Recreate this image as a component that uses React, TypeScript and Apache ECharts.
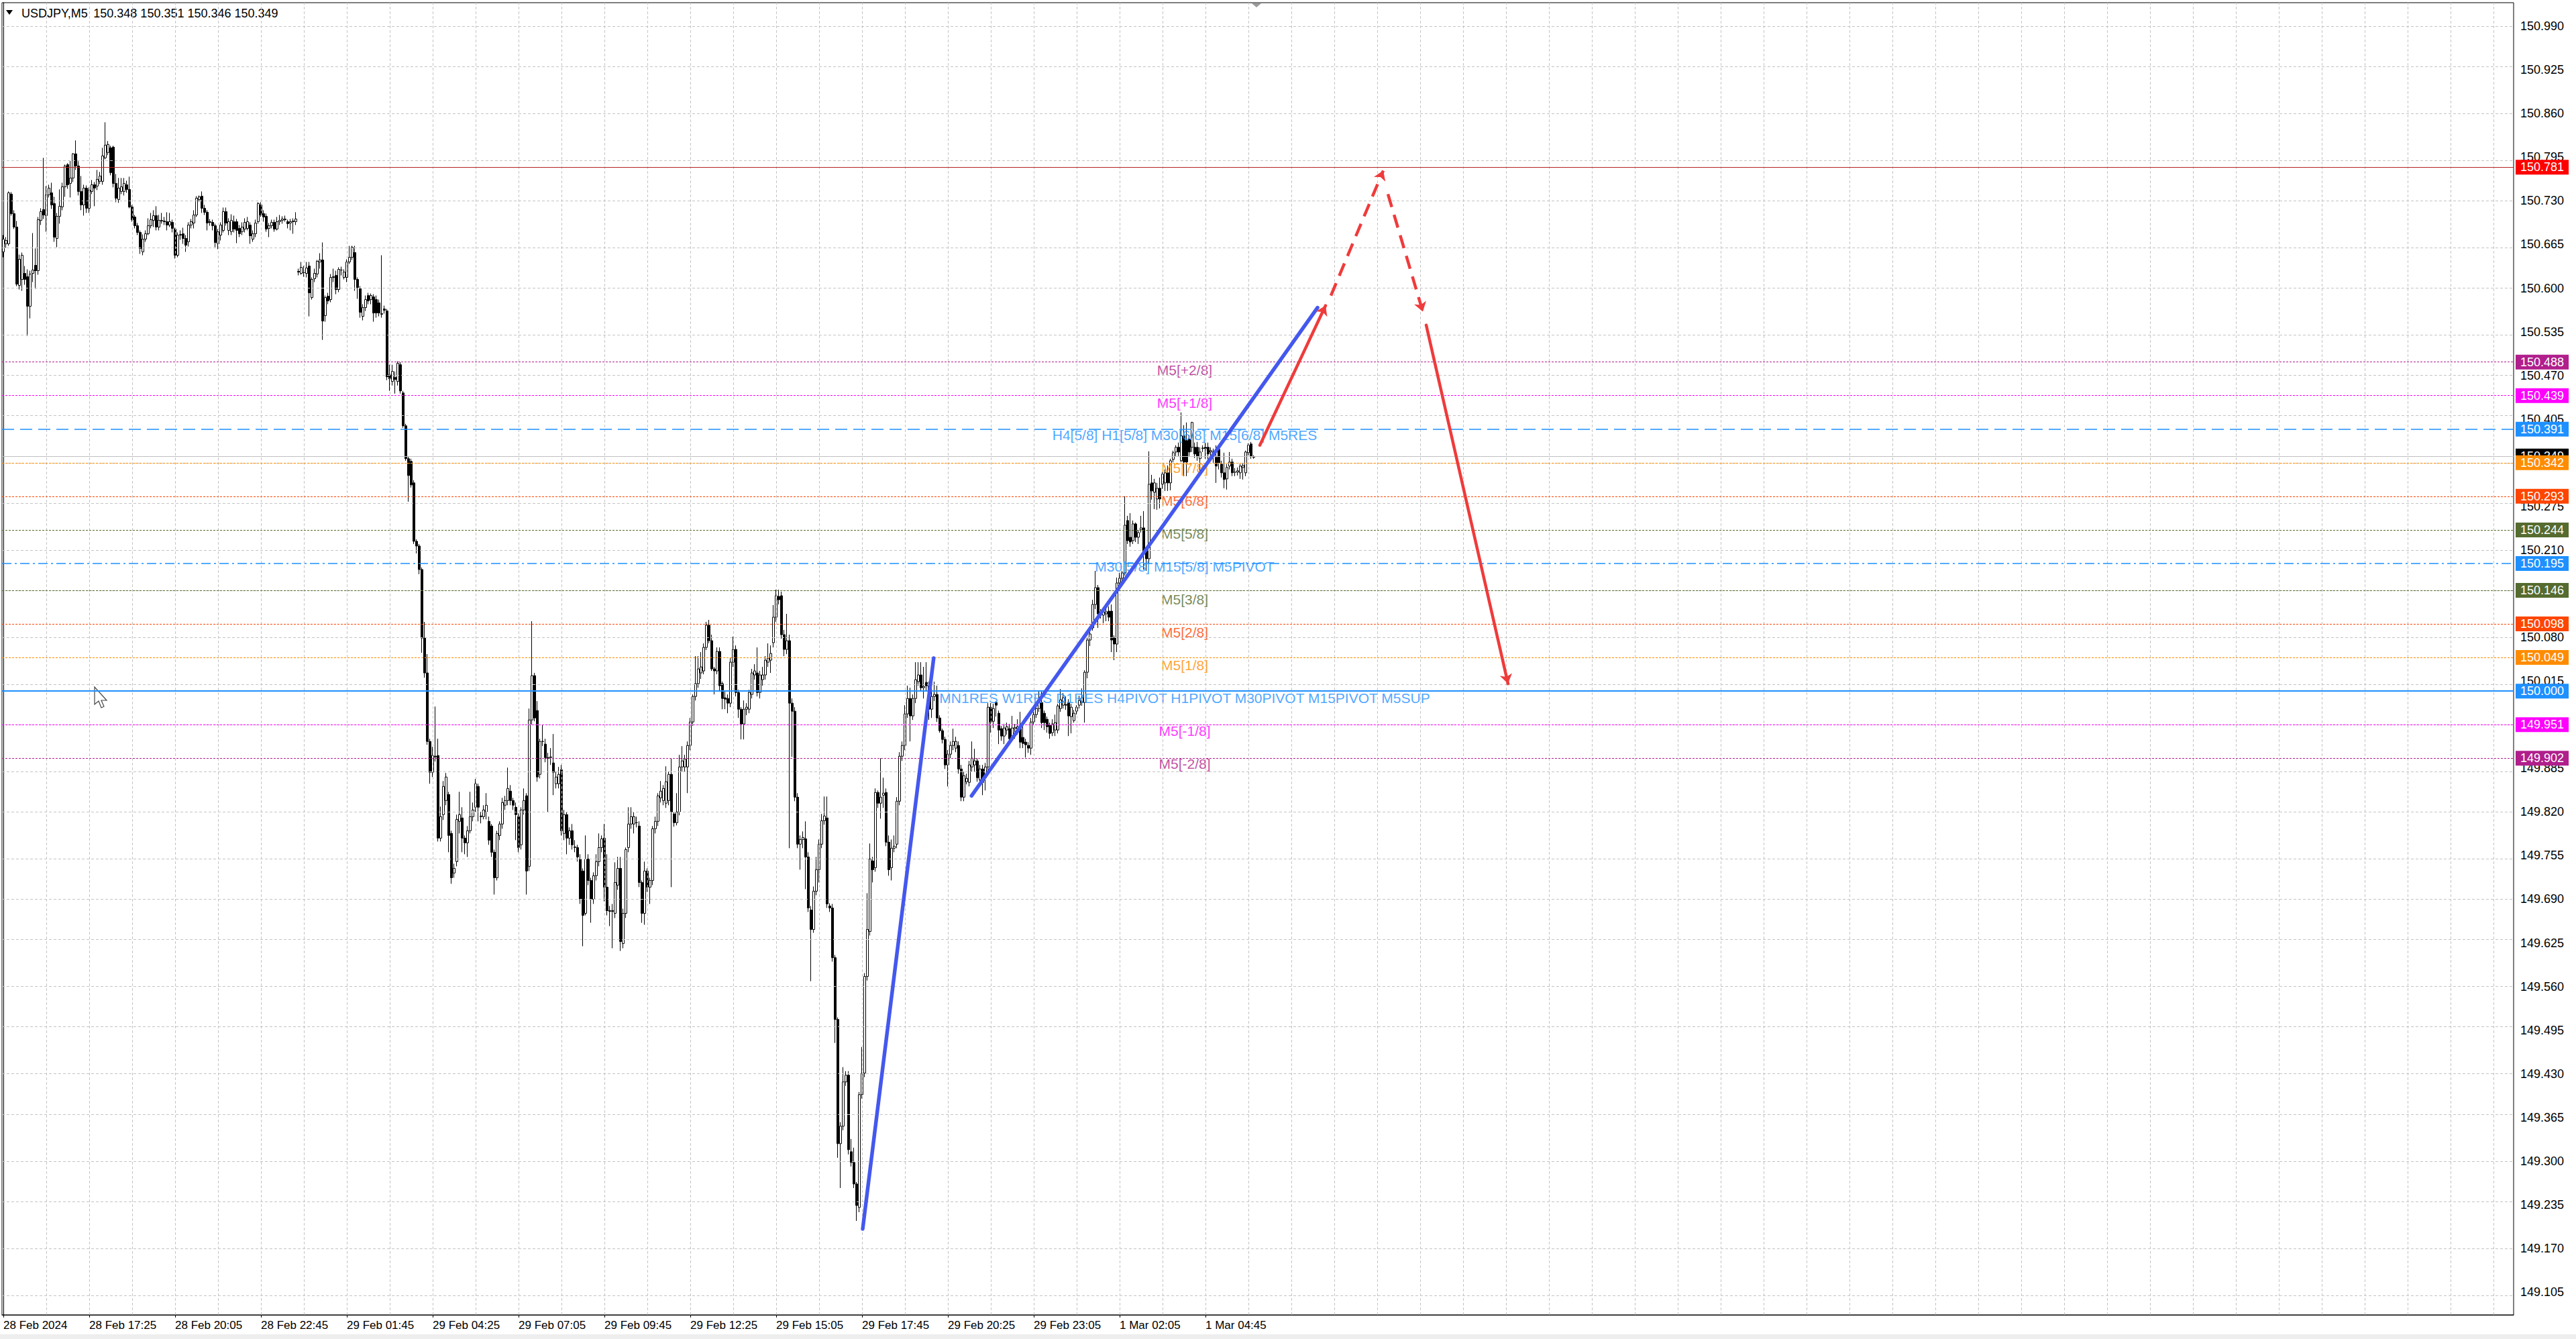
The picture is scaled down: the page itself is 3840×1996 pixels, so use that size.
import React, { useEffect, useRef } from 'react';
import * as echarts from 'echarts';

// ---------- DATA ----------
const symbolTitle = 'USDJPY,M5';
const headerQuote = ['150.348', '150.351', '150.346', '150.349'];

const timeLabelBars = [0, 32, 64, 96, 128, 160, 192, 224, 256, 288, 320, 352, 384, 416, 448];
const timeLabels = [
  '28 Feb 2024', '28 Feb 17:25', '28 Feb 20:05', '28 Feb 22:45', '29 Feb 01:45', '29 Feb 04:25',
  '29 Feb 07:05', '29 Feb 09:45', '29 Feb 12:25', '29 Feb 15:05', '29 Feb 17:45', '29 Feb 20:25',
  '29 Feb 23:05', '1 Mar 02:05', '1 Mar 04:45',
];

const priceTicks = [
  149.105, 149.170, 149.235, 149.300, 149.365, 149.430, 149.495, 149.560, 149.625, 149.690,
  149.755, 149.820, 149.885, 149.950, 150.015, 150.080, 150.145, 150.210, 150.275, 150.340,
  150.405, 150.470, 150.535, 150.600, 150.665, 150.730, 150.795, 150.860, 150.925, 150.990,
];

const levelPrices = [150.781, 150.488, 150.439, 150.391, 150.342, 150.293, 150.244, 150.195, 150.146, 150.098, 150.049, 150.000, 149.951, 149.902];
const levelNames = [
  '', 'M5[+2/8]', 'M5[+1/8]', 'H4[5/8] H1[5/8] M30[6/8] M15[6/8] M5RES', 'M5[7/8]', 'M5[6/8]', 'M5[5/8]',
  'M30[5/8] M15[5/8] M5PIVOT', 'M5[3/8]', 'M5[2/8]', 'M5[1/8]',
  'MN1RES W1RES D1RES H4PIVOT H1PIVOT M30PIVOT M15PIVOT M5SUP', 'M5[-1/8]', 'M5[-2/8]',
];
const bidPrice = 150.349;

// [open, close, low, high]
const ohlcDay1: number[][] = [
  [150.654,150.673,150.646,150.679],[150.666,150.671,150.660,150.676],[150.666,150.742,150.663,150.744],[150.740,150.711,150.708,150.743],
  [150.711,150.691,150.688,150.716],[150.691,150.606,150.603,150.700],[150.604,150.643,150.598,150.650],[150.613,150.649,150.596,150.653],
  [150.622,150.613,150.605,150.633],[150.617,150.573,150.529,150.628],[150.573,150.621,150.555,150.626],[150.622,150.627,150.609,150.682],
  [150.634,150.626,150.599,150.659],[150.626,150.702,150.620,150.706],[150.701,150.714,150.694,150.719],[150.717,150.709,150.703,150.794],
  [150.708,150.739,150.684,150.752],[150.739,150.749,150.735,150.754],[150.742,150.724,150.718,150.757],[150.726,150.676,150.669,150.736],
  [150.674,150.707,150.661,150.712],[150.707,150.722,150.696,150.747],[150.721,150.751,150.716,150.757],[150.751,150.782,150.736,150.784],
  [150.784,150.754,150.748,150.786],[150.756,150.764,150.735,150.790],[150.764,150.800,150.758,150.801],[150.800,150.782,150.776,150.820],
  [150.782,150.744,150.738,150.789],[150.744,150.724,150.716,150.767],[150.724,150.749,150.708,150.754],[150.749,150.719,150.712,150.753],
  [150.719,150.746,150.712,150.750],[150.744,150.754,150.740,150.761],[150.754,150.749,150.722,150.758],[150.752,150.762,150.746,150.776],
  [150.759,150.767,150.755,150.773],[150.759,150.797,150.754,150.809],[150.794,150.813,150.792,150.847],[150.802,150.814,150.798,150.819],
  [150.809,150.772,150.768,150.812],[150.810,150.756,150.750,150.812],[150.756,150.734,150.728,150.770],[150.732,150.749,150.727,150.764],
  [150.744,150.751,150.740,150.764],[150.744,150.756,150.738,150.764],[150.754,150.747,150.742,150.760],[150.747,150.721,150.719,150.766],
  [150.721,150.702,150.699,150.724],[150.706,150.693,150.689,150.709],[150.693,150.683,150.679,150.697],[150.683,150.659,150.651,150.686],
  [150.654,150.673,150.649,150.680],[150.673,150.681,150.669,150.686],[150.681,150.693,150.679,150.704],[150.693,150.702,150.689,150.712],
  [150.701,150.708,150.691,150.716],[150.708,150.691,150.686,150.722],[150.691,150.701,150.686,150.709],[150.700,150.701,150.696,150.712],
  [150.700,150.699,150.694,150.706],[150.699,150.694,150.686,150.713],[150.694,150.699,150.691,150.712],[150.698,150.689,150.683,150.702],
  [150.688,150.649,150.644,150.690],[150.649,150.679,150.646,150.683],[150.679,150.680,150.672,150.686],[150.681,150.674,150.666,150.690],
  [150.674,150.664,150.654,150.679],[150.669,150.694,150.662,150.698],[150.694,150.699,150.689,150.703],[150.697,150.709,150.689,150.716],
  [150.709,150.734,150.706,150.737],[150.732,150.736,150.729,150.738],[150.737,150.719,150.712,150.744],[150.719,150.713,150.709,150.724],
  [150.713,150.697,150.686,150.716],[150.699,150.698,150.693,150.703],[150.698,150.693,150.686,150.702],[150.693,150.668,150.661,150.696],
  [150.666,150.684,150.658,150.688],[150.679,150.694,150.671,150.698],[150.686,150.714,150.683,150.720],[150.714,150.697,150.693,150.720],
  [150.686,150.699,150.679,150.704],[150.684,150.701,150.679,150.710],[150.699,150.688,150.683,150.708],[150.699,150.686,150.667,150.703],
  [150.689,150.681,150.676,150.694],[150.684,150.691,150.679,150.698],[150.688,150.698,150.683,150.704],[150.689,150.699,150.686,150.706],
  [150.694,150.678,150.666,150.698],[150.673,150.681,150.669,150.686],[150.681,150.697,150.676,150.702],[150.699,150.726,150.696,150.728],
  [150.724,150.709,150.706,150.728],[150.711,150.706,150.699,150.716],[150.707,150.688,150.684,150.711],[150.689,150.693,150.676,150.697],
  [150.693,150.698,150.689,150.702],[150.698,150.688,150.684,150.702],[150.688,150.699,150.686,150.706],[150.699,150.701,150.694,150.709],
  [150.701,150.703,150.696,150.707],[150.702,150.703,150.699,150.708],[150.699,150.696,150.689,150.702],[150.697,150.699,150.686,150.703],
  [150.699,150.700,150.681,150.704],[150.699,150.703,150.694,150.713],
];

const ohlcDay2: number[][] = [
  [150.625,150.624,150.619,150.629],[150.622,150.631,150.620,150.639],[150.623,150.623,150.617,150.633],[150.622,150.630,150.616,150.639],
  [150.633,150.593,150.558,150.639],[150.586,150.613,150.583,150.616],[150.614,150.622,150.609,150.629],[150.621,150.640,150.616,150.642],
  [150.639,150.642,150.629,150.652],[150.642,150.551,150.523,150.668],[150.559,150.586,150.550,150.589],[150.588,150.581,150.576,150.593],
  [150.583,150.616,150.579,150.621],[150.616,150.617,150.609,150.629],[150.619,150.598,150.591,150.626],[150.598,150.628,150.594,150.631],
  [150.627,150.627,150.619,150.632],[150.616,150.624,150.613,150.628],[150.616,150.639,150.609,150.643],[150.639,150.646,150.636,150.663],
  [150.646,150.661,150.642,150.663],[150.653,150.613,150.596,150.663],[150.613,150.601,150.584,150.616],[150.599,150.564,150.556,150.603],
  [150.558,150.571,150.552,150.576],[150.571,150.583,150.566,150.589],[150.589,150.581,150.576,150.593],[150.583,150.589,150.576,150.592],
  [150.587,150.563,150.550,150.591],[150.583,150.563,150.556,150.589],[150.578,150.563,150.558,150.583],[150.561,150.562,150.556,150.649],
  [150.569,150.567,150.562,150.574],[150.566,150.468,150.463,150.569],[150.471,150.465,150.447,150.486],[150.461,150.476,150.455,150.486],
  [150.467,150.464,150.443,150.476],[150.461,150.488,150.455,150.491],[150.486,150.447,150.443,150.490],[150.444,150.395,150.392,150.447],
  [150.395,150.346,150.343,150.398],[150.346,150.321,150.282,150.349],[150.342,150.307,150.303,150.346],[150.310,150.223,150.219,150.314],
  [150.223,150.216,150.205,150.226],[150.216,150.181,150.174,150.219],[150.181,150.079,150.057,150.184],[150.079,150.027,150.020,150.103],
  [150.027,149.925,149.920,150.055],[149.925,149.879,149.862,149.929],[149.879,149.904,149.872,149.917],[149.903,149.902,149.895,149.977],
  [149.904,149.781,149.776,149.929],[149.781,149.813,149.776,149.828],[149.816,149.858,149.808,149.866],[149.837,149.872,149.830,149.878],
  [149.846,149.785,149.760,149.850],[149.788,149.722,149.713,149.792],[149.729,149.736,149.722,149.743],[149.746,149.809,149.739,149.816],
  [149.806,149.816,149.788,149.850],[149.811,149.781,149.760,149.827],[149.781,149.774,149.757,149.785],[149.774,149.792,149.753,149.799],
  [149.792,149.813,149.788,149.850],[149.813,149.823,149.806,149.834],[149.827,149.862,149.820,149.869],[149.858,149.827,149.806,149.862],
  [149.814,149.813,149.803,149.820],[149.813,149.823,149.809,149.830],[149.820,149.830,149.809,149.848],[149.806,149.778,149.771,149.813],
  [149.799,149.760,149.753,149.802],[149.760,149.722,149.697,149.764],[149.722,149.788,149.718,149.792],[149.785,149.802,149.778,149.806],
  [149.802,149.834,149.795,149.841],[149.830,149.837,149.823,149.844],[149.837,149.855,149.830,149.886],[149.851,149.837,149.830,149.860],
  [149.837,149.830,149.823,149.841],[149.827,149.816,149.778,149.834],[149.813,149.767,149.760,149.818],[149.771,149.823,149.764,149.827],
  [149.823,149.837,149.816,149.855],[149.844,149.732,149.697,149.848],[149.739,149.957,149.732,149.974],[149.957,150.023,149.950,150.104],
  [150.023,149.960,149.955,150.027],[149.971,149.872,149.865,149.985],[149.876,149.925,149.870,149.929],[149.925,149.925,149.918,149.950],
  [149.921,149.901,149.894,149.929],[149.901,149.900,149.820,149.908],[149.901,149.902,149.890,149.915],[149.893,149.879,149.845,149.936],
  [149.862,149.872,149.855,149.880],[149.862,149.876,149.855,149.887],[149.883,149.792,149.785,149.890],[149.788,149.816,149.778,149.823],
  [149.816,149.781,149.757,149.820],[149.781,149.792,149.771,149.797],[149.792,149.771,149.764,149.802],[149.767,149.768,149.760,149.778],
  [149.767,149.753,149.746,149.771],[149.750,149.690,149.683,149.757],[149.732,149.666,149.620,149.736],[149.669,149.750,149.666,149.785],
  [149.750,149.718,149.711,149.757],[149.718,149.690,149.655,149.722],[149.690,149.725,149.683,149.730],[149.725,149.746,149.718,149.757],
  [149.746,149.767,149.739,149.788],[149.767,149.780,149.760,149.785],[149.781,149.708,149.687,149.802],[149.708,149.673,149.666,149.757],
  [149.673,149.672,149.650,149.680],[149.672,149.673,149.617,149.683],[149.669,149.715,149.662,149.745],[149.711,149.736,149.704,149.753],
  [149.736,149.627,149.613,149.753],[149.624,149.669,149.617,149.676],[149.669,149.764,149.662,149.767],[149.767,149.802,149.760,149.827],
  [149.802,149.813,149.795,149.827],[149.802,149.813,149.788,149.820],[149.804,149.804,149.797,149.813],[149.799,149.715,149.708,149.806],
  [149.715,149.669,149.655,149.718],[149.669,149.732,149.652,149.746],[149.732,149.708,149.701,149.736],[149.708,149.718,149.683,149.722],
  [149.718,149.795,149.711,149.799],[149.795,149.806,149.788,149.813],[149.806,149.844,149.799,149.848],[149.841,149.851,149.834,149.866],
  [149.837,149.855,149.830,149.860],[149.833,149.865,149.826,149.888],[149.837,149.876,149.830,149.880],[149.876,149.820,149.708,149.900],
  [149.817,149.804,149.798,149.820],[149.804,149.820,149.800,149.848],[149.820,149.887,149.815,149.905],[149.887,149.896,149.880,149.918],
  [149.887,149.899,149.880,149.905],[149.887,149.919,149.848,149.925],[149.919,149.954,149.912,149.960],[149.954,149.992,149.948,149.995],
  [149.992,150.011,149.986,150.052],[150.011,150.033,150.005,150.052],[150.027,150.036,150.018,150.058],[150.030,150.065,150.025,150.071],
  [150.065,150.098,150.061,150.103],[150.098,150.075,150.071,150.106],[150.075,150.033,150.030,150.084],[150.033,150.030,149.995,150.036],
  [150.030,150.059,150.025,150.065],[150.059,150.008,149.999,150.065],[150.011,149.989,149.973,150.014],[149.990,149.988,149.973,149.999],
  [149.989,149.982,149.967,149.995],[149.982,150.043,149.976,150.049],[150.043,150.062,150.036,150.081],[150.062,149.998,149.992,150.068],
  [149.998,149.973,149.960,150.002],[149.973,149.951,149.928,149.976],[149.951,149.973,149.928,149.986],[149.973,149.976,149.964,149.982],
  [149.973,149.998,149.967,150.002],[149.995,150.027,149.989,150.033],[150.024,150.030,150.017,150.040],[150.027,149.998,149.992,150.065],
  [149.998,150.024,149.989,150.030],[150.017,150.024,150.008,150.036],[150.024,150.046,150.017,150.052],[150.043,150.049,150.036,150.071],
  [150.046,150.056,150.027,150.068],[150.072,150.110,150.065,150.128],[150.110,150.142,150.103,150.151],[150.141,150.136,150.129,150.151],
  [150.142,150.084,150.078,150.148],[150.084,150.062,150.052,150.091],[150.062,150.075,150.055,150.115],[150.075,149.982,149.766,150.084],
  [149.982,149.970,149.902,149.989],[149.970,149.842,149.836,149.976],[149.842,149.772,149.766,149.848],[149.772,149.779,149.734,149.785],
  [149.779,149.782,149.766,149.791],[149.780,149.753,149.705,149.806],[149.753,149.677,149.671,149.760],[149.674,149.645,149.568,149.680],
  [149.645,149.702,149.640,149.709],[149.702,149.734,149.696,149.753],[149.734,149.772,149.715,149.779],[149.772,149.807,149.766,149.817],
  [149.807,149.814,149.801,149.843],[149.811,149.683,149.677,149.843],[149.680,149.677,149.671,149.684],[149.677,149.603,149.597,149.683],
  [149.603,149.511,149.476,149.607],[149.511,149.326,149.305,149.514],[149.326,149.352,149.260,149.358],[149.352,149.418,149.346,149.440],
  [149.418,149.428,149.412,149.434],[149.428,149.317,149.310,149.434],[149.314,149.298,149.292,149.333],[149.298,149.266,149.260,149.320],
  [149.266,149.234,149.211,149.269],[149.231,149.399,149.224,149.403],[149.399,149.431,149.393,149.470],[149.431,149.575,149.425,149.580],
  [149.575,149.645,149.569,149.699],[149.642,149.750,149.636,149.773],[149.747,149.734,149.715,149.753],[149.737,149.849,149.731,149.855],
  [149.849,149.833,149.826,149.852],[149.833,149.842,149.810,149.900],[149.845,149.848,149.826,149.871],[149.849,149.775,149.769,149.855],
  [149.775,149.734,149.725,149.785],[149.737,149.766,149.718,149.779],[149.766,149.769,149.760,149.785],[149.772,149.836,149.766,149.842],
  [149.836,149.903,149.830,149.909],[149.903,149.919,149.896,149.925],[149.919,149.966,149.912,149.979],[149.966,149.989,149.960,150.008],
  [149.989,149.963,149.925,150.005],[149.963,149.989,149.957,149.995],[149.989,150.017,149.982,150.043],[150.014,150.024,150.008,150.043],
  [150.024,150.005,149.999,150.043],[150.005,150.007,149.989,150.036],[150.013,150.008,150.001,150.043],[150.008,149.973,149.957,150.014],
  [149.973,149.992,149.960,150.008],[149.992,149.995,149.985,150.014],[149.995,149.960,149.954,150.008],[149.960,149.941,149.938,149.964],
  [149.941,149.928,149.922,149.944],[149.928,149.890,149.884,149.932],[149.890,149.906,149.858,149.912],[149.906,149.919,149.900,149.925],
  [149.919,149.925,149.912,149.944],[149.915,149.925,149.909,149.932],[149.919,149.884,149.877,149.925],[149.884,149.842,149.836,149.890],
  [149.842,149.874,149.836,149.880],[149.865,149.870,149.861,149.877],[149.864,149.890,149.858,149.896],[149.887,149.900,149.880,149.925],
  [149.890,149.896,149.880,149.914],[149.896,149.871,149.865,149.900],[149.868,149.884,149.861,149.890],[149.884,149.864,149.845,149.890],
  [149.871,149.887,149.852,149.893],[149.887,149.976,149.880,149.982],[149.976,149.954,149.938,149.982],
];

const ohlcDay3: number[][] = [
  [149.955,149.974,149.945,149.981],[149.983,149.979,149.962,149.985],[149.967,149.942,149.921,149.971],[149.944,149.933,149.926,149.948],
  [149.933,149.945,149.921,149.951],[149.942,149.947,149.935,149.953],[149.944,149.929,149.922,149.951],[149.933,149.945,149.926,149.963],
  [149.944,149.946,149.929,149.951],[149.944,149.947,149.935,149.958],[149.944,149.924,149.915,149.969],[149.931,149.922,149.915,149.949],
  [149.924,149.920,149.901,149.929],[149.919,149.915,149.908,149.924],[149.915,149.954,149.905,149.960],[149.954,149.965,149.949,149.969],
  [149.965,149.974,149.960,149.978],[149.974,149.983,149.969,150.001],[149.983,149.953,149.945,149.999],[149.967,149.953,149.942,149.971],
  [149.958,149.947,149.938,149.962],[149.949,149.937,149.929,149.953],[149.938,149.951,149.933,149.958],[149.942,149.953,149.933,149.965],
  [149.942,149.978,149.937,149.981],[149.974,149.987,149.969,150.003],[149.979,149.990,149.974,149.997],[149.980,149.979,149.972,149.992],
  [149.983,149.963,149.933,149.988],[149.962,149.976,149.937,149.981],[149.956,149.967,149.953,149.972],[149.970,149.976,149.965,149.979],
  [149.979,149.986,149.974,149.993],[149.983,149.990,149.978,150.004],[149.983,150.028,149.953,150.031],[150.028,150.076,150.019,150.080],
  [150.076,150.085,150.067,150.089],[150.094,150.129,150.090,150.136],[150.129,150.154,150.122,150.179],[150.154,150.115,150.094,150.158],
  [150.116,150.115,150.108,150.122],[150.113,150.118,150.101,150.122],[150.115,150.118,150.104,150.126],[150.119,150.110,150.104,150.126],
  [150.119,150.076,150.058,150.129],[150.079,150.070,150.046,150.083],[150.070,150.161,150.058,150.169],[150.161,150.168,150.155,150.176],
  [150.168,150.176,150.162,150.179],[150.176,150.247,150.172,150.290],[150.254,150.224,150.219,150.261],[150.229,150.222,150.215,150.265],
  [150.224,150.249,150.219,150.254],[150.249,150.229,150.222,150.251],[150.229,150.236,150.219,150.240],[150.240,150.243,150.236,150.261],
  [150.243,150.208,150.181,150.268],[150.211,150.197,150.179,150.215],[150.197,150.308,150.190,150.357],[150.310,150.298,150.285,150.322],
  [150.296,150.310,150.271,150.316],[150.286,150.302,150.270,150.310],[150.302,150.286,150.272,150.318],[150.308,150.323,150.301,150.326],
  [150.310,150.325,150.298,150.330],[150.325,150.310,150.298,150.336],[150.310,150.343,150.299,150.346],[150.345,150.355,150.341,150.358],
  [150.356,150.363,150.350,150.366],[150.363,150.356,150.350,150.370],[150.343,150.380,150.341,150.415],[150.380,150.341,150.320,150.396],
  [150.373,150.341,150.320,150.400],[150.375,150.356,150.350,150.381],[150.363,150.400,150.356,150.401],[150.363,150.353,150.347,150.370],
  [150.363,150.350,150.343,150.371],[150.346,150.356,150.325,150.363],[150.361,150.362,150.356,150.366],[150.363,150.361,150.346,150.370],
  [150.363,150.353,150.343,150.370],[150.356,150.358,150.345,150.363],[150.356,150.350,150.340,150.361],[150.348,150.335,150.310,150.366],
  [150.360,150.340,150.330,150.366],[150.338,150.325,150.318,150.343],[150.325,150.315,150.302,150.355],[150.316,150.333,150.300,150.338],
  [150.335,150.341,150.330,150.356],[150.341,150.325,150.320,150.346],[150.326,150.326,150.320,150.332],[150.326,150.328,150.321,150.333],
  [150.325,150.335,150.316,150.338],[150.333,150.336,150.315,150.340],[150.325,150.356,150.320,150.358],[150.355,150.366,150.351,150.369],
  [150.368,150.350,150.346,150.371],[150.348,150.349,150.346,150.351],
];

const blueTrendLines: number[][][] = [
  [[320.25, 149.199], [346.7, 150.049]],
  [[360.8, 149.844], [489.75, 150.571]],
];
const forecastSolid: number[][][] = [
  [[468.25, 150.366], [492.75, 150.574]],
  [[530.25, 150.545], [560.75, 150.011]],
];
const forecastDashed: number[][][] = [
  [[494.75, 150.589], [514.25, 150.775]],
  [[516, 150.740], [529, 150.565]],
];

// ---------- LAYOUT / STYLE ----------
const FONT = "'Liberation Sans', Arial, Helvetica, sans-serif";
const TOTAL_SLOTS = 936;
const Y_MIN = 149.0711;
const Y_MAX = 151.0251;
const LEVEL_TEXT_BAR = 440.25;
const GRID_STEP_BARS = 16;

const DOT = [3, 2];
const levelLineColors = ['#b22222', '#b01f8c', '#ff00ff', '#1e90ff', '#ff8c00', '#ff4500', '#556b2f', '#1e90ff', '#556b2f', '#ff4500', '#ff8c00', '#1e90ff', '#ff00ff', '#b01f8c'];
const levelBoxColors = ['#ff0000', '#b01f8c', '#ff00ff', '#1e90ff', '#ff8c00', '#ff4500', '#556b2f', '#1e90ff', '#556b2f', '#ff4500', '#ff8c00', '#1e90ff', '#ff00ff', '#b01f8c'];
const levelDash: any[] = ['solid', DOT, DOT, [18, 9], DOT, DOT, DOT, [14, 5, 3, 5], DOT, DOT, DOT, 'solid', DOT, DOT];
const levelWidths = [1.2, 1, 1, 1.5, 1, 1, 1, 1.5, 1, 1, 1, 2, 1, 1];

function buildOption() {
  const ohlc = [...ohlcDay1, ...ohlcDay2, ...ohlcDay3];
  const labelByBar: Record<number, string> = {};
  timeLabelBars.forEach((b, i) => (labelByBar[b] = timeLabels[i]));
  const categories = Array.from({ length: TOTAL_SLOTS }, (_, i) => String(i));

  const gridMarks: any[] = priceTicks.map((v) => ({ yAxis: v }));
  for (let b = GRID_STEP_BARS; b < TOTAL_SLOTS - 4; b += GRID_STEP_BARS) gridMarks.push({ xAxis: b });

  const boxLabel = (price: number, bg: string) => ({
    show: true,
    position: 'end',
    distance: 3,
    formatter: price.toFixed(3),
    color: '#fff',
    backgroundColor: bg,
    padding: [2, 7, 2, 7],
    fontSize: 18,
    lineHeight: 18,
    fontFamily: FONT,
  });

  const levelMarks: any[] = [
    {
      yAxis: bidPrice,
      lineStyle: { color: '#c0c0c0', type: 'solid', width: 1 },
      label: boxLabel(bidPrice, '#000000'),
    },
  ];
  levelPrices.forEach((p, i) => {
    levelMarks.push({
      yAxis: p,
      lineStyle: { color: levelLineColors[i], type: levelDash[i], width: levelWidths[i] },
      label: boxLabel(p, levelBoxColors[i]),
    });
  });

  const levelTextData = levelPrices
    .map((p, i) => ({ name: levelNames[i], value: [LEVEL_TEXT_BAR, p], label: { color: levelLineColors[i] } }))
    .filter((d) => d.name);

  return {
    animation: false,
    backgroundColor: '#ffffff',
    grid: { left: 3, right: 93, top: 4, bottom: 36, show: true, borderColor: '#000', borderWidth: 1, backgroundColor: 'transparent' },
    xAxis: [
      {
        type: 'category',
        data: categories,
        boundaryGap: true,
        axisLine: { show: true, lineStyle: { color: '#000' } },
        axisTick: { show: true, alignWithLabel: true, length: 4, interval: (i: number) => labelByBar[i] !== undefined, lineStyle: { color: '#000' } },
        axisLabel: {
          show: true,
          interval: (i: number) => labelByBar[i] !== undefined,
          formatter: (_v: string, idx: number) => labelByBar[idx] || '',
          align: 'left',
          margin: 7,
          color: '#000',
          fontSize: 17,
          fontFamily: FONT,
        },
        splitLine: { show: false },
      },
      { type: 'value', min: -0.5, max: TOTAL_SLOTS - 0.5, show: false },
    ],
    yAxis: {
      type: 'value',
      position: 'right',
      min: Y_MIN,
      max: Y_MAX,
      axisLine: { show: true, lineStyle: { color: '#000' } },
      axisTick: { show: false },
      splitLine: { show: false },
      axisLabel: {
        customValues: priceTicks,
        formatter: (v: number) => v.toFixed(3),
        margin: 10,
        fontSize: 18,
        color: '#000',
        fontFamily: FONT,
      },
    },
    series: [
      {
        type: 'line',
        name: 'grid',
        xAxisIndex: 1,
        yAxisIndex: 0,
        data: [[-10, 150]],
        symbol: 'none',
        lineStyle: { opacity: 0 },
        silent: true,
        z: 1,
        markLine: {
          silent: true,
          symbol: 'none',
          animation: false,
          label: { show: false },
          lineStyle: { color: '#c4c4c4', type: [4, 3], width: 1 },
          data: gridMarks,
        },
      },
      {
        type: 'line',
        name: 'levels',
        xAxisIndex: 1,
        yAxisIndex: 0,
        data: [[-10, 150]],
        symbol: 'none',
        lineStyle: { opacity: 0 },
        silent: true,
        z: 2,
        markLine: {
          silent: true,
          symbol: 'none',
          animation: false,
          data: levelMarks,
        },
      },
      {
        type: 'candlestick',
        name: 'USDJPY',
        xAxisIndex: 0,
        yAxisIndex: 0,
        data: ohlc,
        barWidth: 3,
        silent: true,
        z: 3,
        itemStyle: { color: '#ffffff', color0: '#000000', borderColor: '#000000', borderColor0: '#000000', borderWidth: 1 },
      },
      {
        type: 'scatter',
        name: 'levelText',
        xAxisIndex: 1,
        yAxisIndex: 0,
        data: levelTextData,
        symbolSize: 1,
        itemStyle: { color: 'rgba(0,0,0,0)' },
        silent: true,
        z: 4,
        label: { show: true, position: 'bottom', distance: -1, formatter: '{b}', fontSize: 21, fontFamily: FONT },
      },
      {
        type: 'lines',
        name: 'trend',
        coordinateSystem: 'cartesian2d',
        xAxisIndex: 1,
        yAxisIndex: 0,
        data: blueTrendLines.map((c) => ({ coords: c })),
        symbol: ['none', 'none'],
        lineStyle: { color: '#4458ee', width: 5.5, opacity: 1, cap: 'round' },
        silent: true,
        z: 5,
      },
      {
        type: 'lines',
        name: 'forecastSolid',
        coordinateSystem: 'cartesian2d',
        xAxisIndex: 1,
        yAxisIndex: 0,
        data: forecastSolid.map((c) => ({ coords: c })),
        symbol: ['none', 'arrow'],
        symbolSize: 14,
        lineStyle: { color: '#ef3b3b', width: 4.5, opacity: 1, cap: 'round' },
        silent: true,
        z: 5,
      },
      {
        type: 'lines',
        name: 'forecastDashed',
        coordinateSystem: 'cartesian2d',
        xAxisIndex: 1,
        yAxisIndex: 0,
        data: forecastDashed.map((c) => ({ coords: c })),
        symbol: ['none', 'arrow'],
        symbolSize: 14,
        lineStyle: { color: '#ef3b3b', width: 4.5, opacity: 1, type: [20, 12] },
        silent: true,
        z: 5,
      },
    ],
    graphic: [
      { type: 'polygon', shape: { points: [[9, 15], [19, 15], [14, 22]] }, style: { fill: '#000' }, silent: true },
      {
        type: 'text',
        x: 32,
        y: 20,
        style: { text: symbolTitle + ' \u2009' + headerQuote.join(' '), fontSize: 18, fontFamily: FONT, fill: '#000', verticalAlign: 'middle' },
        silent: true,
      },
      { type: 'polygon', shape: { points: [[1866, 5], [1880, 5], [1873, 11]] }, style: { fill: '#9a9a9a' }, silent: true },
      {
        type: 'polygon',
        shape: { points: [[141, 1024], [141, 1050], [147, 1045], [151, 1055], [155, 1053], [151, 1044], [159, 1044]] },
        style: { fill: '#fff', stroke: '#444', lineWidth: 1.2 },
        silent: true,
      },
      { type: 'rect', shape: { x: 0, y: 1989, width: 3840, height: 7 }, style: { fill: '#eeeeee' }, silent: true },
    ],
  };
}

export default function App() {
  const ref = useRef<HTMLDivElement>(null);
  useEffect(() => {
    document.body.style.margin = '0';
    const chart = echarts.init(ref.current as HTMLDivElement, null, { renderer: 'svg' });
    chart.setOption(buildOption() as any);
    return () => chart.dispose();
  }, []);
  return <div ref={ref} style={{ width: 3840, height: 1996 }} />;
}
